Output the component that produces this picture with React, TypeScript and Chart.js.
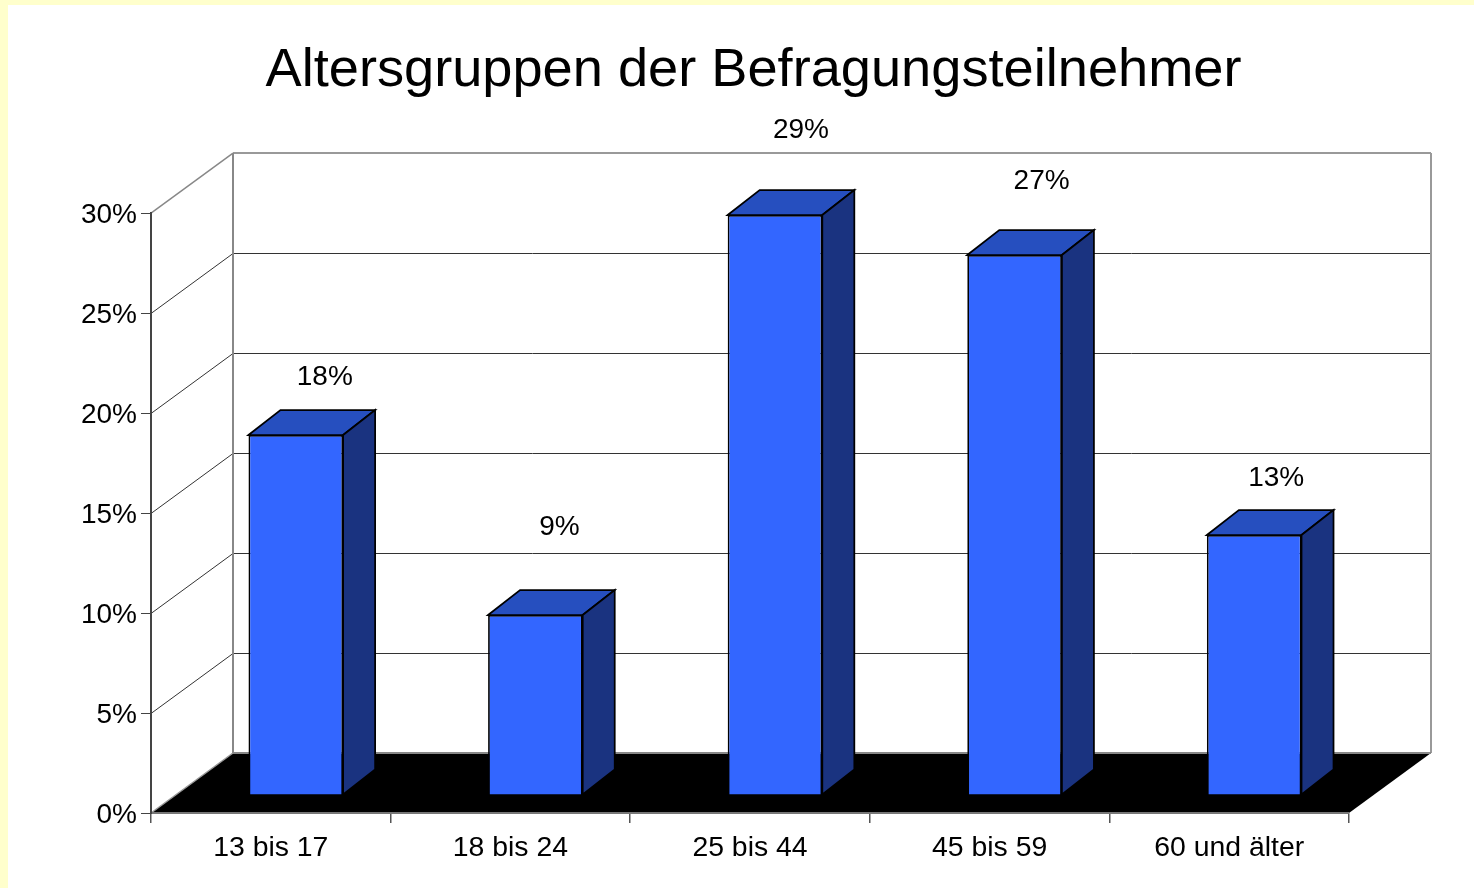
import React, { useEffect, useRef } from "react";
import { Chart, registerables } from "chart.js";

Chart.register(...registerables);

const categories = ["13 bis 17", "18 bis 24", "25 bis 44", "45 bis 59", "60 und älter"];
const percentages = [18, 9, 29, 27, 13];
const axisTicks = [0, 5, 10, 15, 20, 25, 30];
const chartTitle = "Altersgruppen der Befragungsteilnehmer";

const FONT = "'Liberation Sans', Arial, sans-serif";
const WALL = { dx: 82, dy: -60 };
const BAR_SHIFT = { dx: 25, dy: -18 };
const BAR_DEPTH = { dx: 32, dy: -25 };
const LABEL_SHIFT = [
  { dx: 29, dy: -58 },
  { dx: 24, dy: -88 },
  { dx: 26, dy: -85 },
  { dx: 27, dy: -74 },
  { dx: 22, dy: -57 },
];

function line(ctx: CanvasRenderingContext2D, x1: number, y1: number, x2: number, y2: number, color: string, width: number) {
  ctx.strokeStyle = color;
  ctx.lineWidth = width;
  ctx.beginPath();
  ctx.moveTo(x1, y1);
  ctx.lineTo(x2, y2);
  ctx.stroke();
}

function poly(ctx: CanvasRenderingContext2D, pts: number[][], fill: string) {
  ctx.fillStyle = fill;
  ctx.beginPath();
  pts.forEach(([x, y], i) => (i ? ctx.lineTo(x, y) : ctx.moveTo(x, y)));
  ctx.closePath();
  ctx.fill();
  ctx.strokeStyle = "#000000";
  ctx.lineWidth = 1.75;
  ctx.lineJoin = "miter";
  ctx.stroke();
}

const box3d = {
  id: "box3d",
  beforeDraw(chart: any) {
    const { ctx, chartArea: a, scales } = chart;
    const y = scales.y;
    // nudge the value-axis labels down to sit where the reference has them
    y.getLabelItems(a).forEach((item: any) => {
      if (!item.nudged) {
        item.options.translation[1] += 2;
        item.nudged = true;
      }
    });
    ctx.save();
    const bx = a.left + WALL.dx;
    const rx = a.right + WALL.dx;
    const by = a.bottom + WALL.dy;
    const ty = a.top + WALL.dy;
    // floor
    ctx.fillStyle = "#000000";
    ctx.beginPath();
    ctx.moveTo(a.left, a.bottom);
    ctx.lineTo(bx, by);
    ctx.lineTo(rx, by);
    ctx.lineTo(a.right, a.bottom);
    ctx.closePath();
    ctx.fill();
    // grid on the walls
    axisTicks.forEach((v) => {
      if (v === 0 || v === 30) return;
      const p = Math.round(y.getPixelForValue(v)) + 0.5;
      line(ctx, bx, p + WALL.dy, rx, p + WALL.dy, "#333333", 1);
      line(ctx, a.left, p, bx, p + WALL.dy, "#333333", 1);
    });
    // wall outlines
    line(ctx, a.left, a.top, bx, ty, "#888888", 1.5);
    line(ctx, a.left, a.bottom, bx, by, "#999999", 1.5);
    line(ctx, bx, ty, rx, ty, "#999999", 2);
    line(ctx, bx, ty, bx, by, "#888888", 2);
    line(ctx, rx, ty, rx, by, "#999999", 2);
    line(ctx, bx, by, rx, by, "#888888", 2);
    ctx.restore();
  },
  beforeDatasetDraw(chart: any) {
    chart.ctx.save();
    chart.ctx.translate(BAR_SHIFT.dx, BAR_SHIFT.dy);
  },
  afterDatasetDraw(chart: any, args: any) {
    const { ctx } = chart;
    args.meta.data.forEach((bar: any, i: number) => {
      const { x, y, base, width } = bar.getProps(["x", "y", "base", "width"], true);
      const l = x - width / 2;
      const r = x + width / 2;
      const { dx, dy } = BAR_DEPTH;
      poly(ctx, [[l, y], [l + dx, y + dy], [r + dx, y + dy], [r, y]], "#264FBF");
      poly(ctx, [[r, y], [r + dx, y + dy], [r + dx, base + dy], [r, base]], "#1A3380");
      const s = LABEL_SHIFT[i];
      ctx.fillStyle = "#000000";
      ctx.font = `28px ${FONT}`;
      ctx.textAlign = "center";
      ctx.textBaseline = "middle";
      ctx.fillText(`${percentages[i]}%`, x + s.dx, y + s.dy);
    });
    ctx.restore();
  },
  afterLayout(chart: any) {
    const t = chart.titleBlock;
    if (t) {
      t.left += 75;
      t.right += 75;
    }
  },
};

export default function App() {
  const ref = useRef<HTMLCanvasElement>(null);
  useEffect(() => {
    const chart = new Chart(ref.current!, {
      type: "bar",
      data: {
        labels: categories,
        datasets: [
          {
            label: "Befragungsteilnehmer",
            data: percentages,
            backgroundColor: "#3366FF",
            borderColor: "#000000",
            borderWidth: 1.75,
            barPercentage: 0.395,
            categoryPercentage: 1,
          },
        ],
      },
      plugins: [box3d],
      options: {
        responsive: false,
        animation: false,
        layout: { padding: { left: 0, right: 125, top: 0, bottom: 0 } },
        plugins: {
          legend: { display: false },
          tooltip: { enabled: false },
          title: {
            display: true,
            text: chartTitle,
            color: "#000000",
            font: { family: FONT, size: 54.2, weight: "normal" },
            padding: { top: 34, bottom: 109 },
          },
        },
        scales: {
          x: {
            afterFit: (s: any) => { s.height = 75; },
            grid: { drawOnChartArea: false, tickLength: 10, color: "#555555", lineWidth: 1.5 },
            border: { color: "#777777", width: 2 },
            ticks: { color: "#000000", font: { family: FONT, size: 28.4 }, padding: 8, maxRotation: 0, autoSkip: false },
          },
          y: {
            min: 0,
            max: 30,
            afterFit: (s: any) => { s.width = 143; },
            afterBuildTicks: (s: any) => { s.ticks = axisTicks.map((value) => ({ value })); },
            grid: { drawOnChartArea: false, tickLength: 10, color: "#444444", lineWidth: 1 },
            border: { color: "#444444", width: 2 },
            ticks: {
              color: "#000000",
              font: { family: FONT, size: 28 },
              padding: 4,
              callback: (v: any) => `${v}%`,
            },
          },
        },
      },
    } as any);
    return () => chart.destroy();
  }, []);
  return (
    <div style={{ position: "fixed", inset: 0, background: "#FFFFCC", overflow: "hidden" }}>
      <canvas
        ref={ref}
        width={1466}
        height={883}
        style={{ position: "absolute", left: 8, top: 5, width: 1466, height: 883, background: "#FFFFFF", display: "block" }}
      />
    </div>
  );
}
